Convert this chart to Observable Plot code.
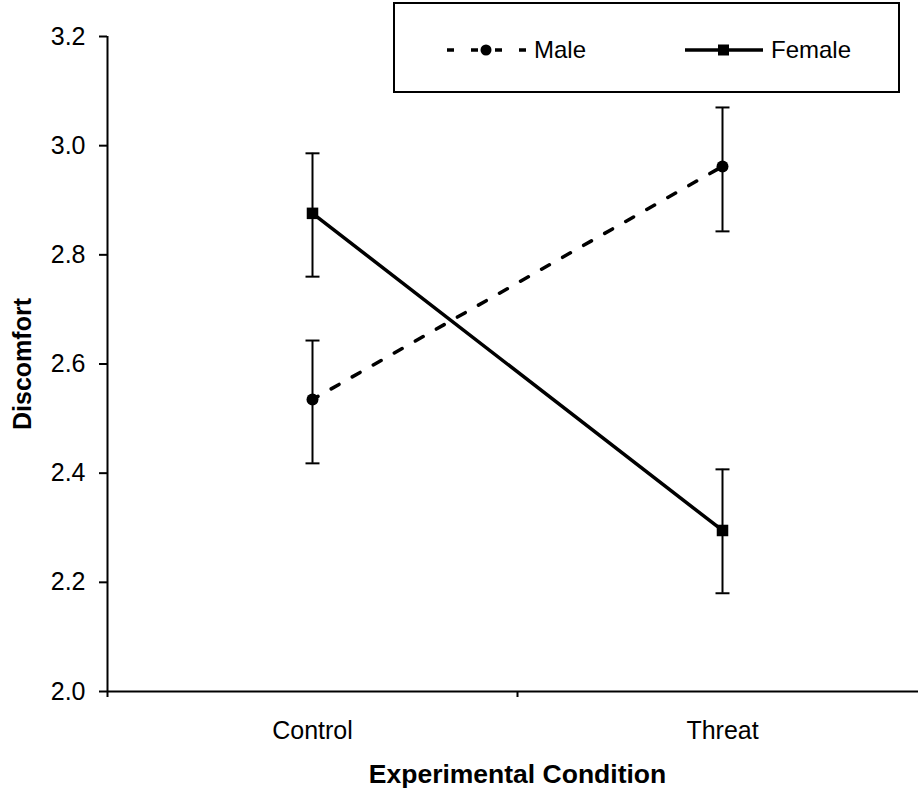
<!DOCTYPE html>
<html>
<head>
<meta charset="utf-8">
<script src="https://cdn.jsdelivr.net/npm/d3@7"></script>
<script src="https://cdn.jsdelivr.net/npm/@observablehq/plot@0.6"></script>
<style>
  html, body { margin: 0; padding: 0; background: #fff; }
  #wrap { position: relative; width: 918px; height: 794px; overflow: hidden; }
  #legend { position: absolute; left: 0; top: 0; }
</style>
</head>
<body>
<div id="wrap"></div>
<script>
// ---- data ----
const conditions = ["Control", "Threat"];
const maleMean   = [2.535, 2.962];
const maleLow    = [2.418, 2.843];
const maleHigh   = [2.643, 3.070];
const femaleMean = [2.876, 2.295];
const femaleLow  = [2.760, 2.180];
const femaleHigh = [2.986, 2.407];
const yTicks = [2.0, 2.2, 2.4, 2.6, 2.8, 3.0, 3.2];
const groupLabels = ["Male", "Female"];

const rows = (sex, mean, low, high) => conditions.map((c, i) => ({
  sex, condition: c, pos: i + 0.5, mean: mean[i], low: low[i], high: high[i]
}));
const male = rows("Male", maleMean, maleLow, maleHigh);
const female = rows("Female", femaleMean, femaleLow, femaleHigh);
const all = male.concat(female);

const cap = {
  draw(ctx, size) {
    const r = Math.sqrt(size / Math.PI);
    ctx.moveTo(-r, 0);
    ctx.lineTo(r, 0);
  }
};

const font = "'Liberation Sans', Arial, Helvetica, sans-serif";

const chart = Plot.plot({
  width: 918,
  height: 794,
  marginLeft: 107,
  marginTop: 36,
  marginBottom: 103,
  marginRight: -9,
  style: { fontFamily: font, fontSize: "25px", background: "white", color: "black", overflow: "visible" },
  x: { type: "linear", domain: [0, 2], axis: null },
  y: { domain: [2, 3.2], axis: null },
  marks: [
    Plot.axisY({ ticks: yTicks, tickSize: 8, tickPadding: 14, tickFormat: d3.format(".1f"), label: null, strokeWidth: 2 }),
    Plot.axisX({ ticks: [0, 1, 2], tickSize: 6, tickFormat: () => "", label: null, strokeWidth: 2 }),
    Plot.axisX({ ticks: conditions.map((c, i) => i + 0.5), tickSize: 0, tickPadding: 30,
                 tickFormat: d => conditions[Math.floor(d)], label: null }),
    Plot.ruleY([2], { stroke: "black", strokeWidth: 2 }),
    Plot.ruleX([0], { stroke: "black", strokeWidth: 2 }),
    Plot.text(["Discomfort"], { frameAnchor: "left", textAnchor: "middle", lineAnchor: "middle",
                                rotate: -90, dx: -85, fontWeight: "bold", fontSize: 25 }),
    Plot.text(["Experimental Condition"], { frameAnchor: "bottom", textAnchor: "middle", lineAnchor: "middle",
                                dy: 83, fontWeight: "bold", fontSize: 26.5 }),
    Plot.ruleX(all, { x: "pos", y1: "low", y2: "high", stroke: "black", strokeWidth: 2 }),
    Plot.dot(all, { x: "pos", y: "low", symbol: cap, r: 7, stroke: "black", strokeWidth: 2 }),
    Plot.dot(all, { x: "pos", y: "high", symbol: cap, r: 7, stroke: "black", strokeWidth: 2 }),
    Plot.line(male, { x: "pos", y: "mean", stroke: "black", strokeWidth: 3.5,
                      strokeDasharray: "9,15.2", strokeDashoffset: 2.7 }),
    Plot.line(female, { x: "pos", y: "mean", stroke: "black", strokeWidth: 3.5 }),
    Plot.dot(male, { x: "pos", y: "mean", symbol: "circle", r: 6, fill: "black", stroke: "none" }),
    Plot.dot(female, { x: "pos", y: "mean", symbol: "square", r: 6.5, fill: "black", stroke: "none" })
  ]
});

const wrap = document.getElementById("wrap");
wrap.appendChild(chart);

// legend overlay
const leg = d3.select(wrap).append("svg")
  .attr("id", "legend").attr("width", 918).attr("height", 100)
  .style("font-family", font);
leg.append("rect").attr("x", 394).attr("y", 3).attr("width", 505).attr("height", 89)
  .attr("fill", "white").attr("stroke", "black").attr("stroke-width", 2);
// Male sample
leg.append("line").attr("x1", 447).attr("x2", 527).attr("y1", 50).attr("y2", 50)
  .attr("stroke", "black").attr("stroke-width", 3.5).attr("stroke-dasharray", "7,17");
leg.append("circle").attr("cx", 486).attr("cy", 50).attr("r", 5.5).attr("fill", "black");
leg.append("text").attr("x", 534).attr("y", 58).attr("font-size", 24).text(groupLabels[0]);
// Female sample
leg.append("line").attr("x1", 685).attr("x2", 763).attr("y1", 50).attr("y2", 50)
  .attr("stroke", "black").attr("stroke-width", 3.5);
leg.append("rect").attr("x", 718).attr("y", 44.5).attr("width", 11).attr("height", 11).attr("fill", "black");
leg.append("text").attr("x", 771).attr("y", 58).attr("font-size", 24).text(groupLabels[1]);
</script>
</body>
</html>
